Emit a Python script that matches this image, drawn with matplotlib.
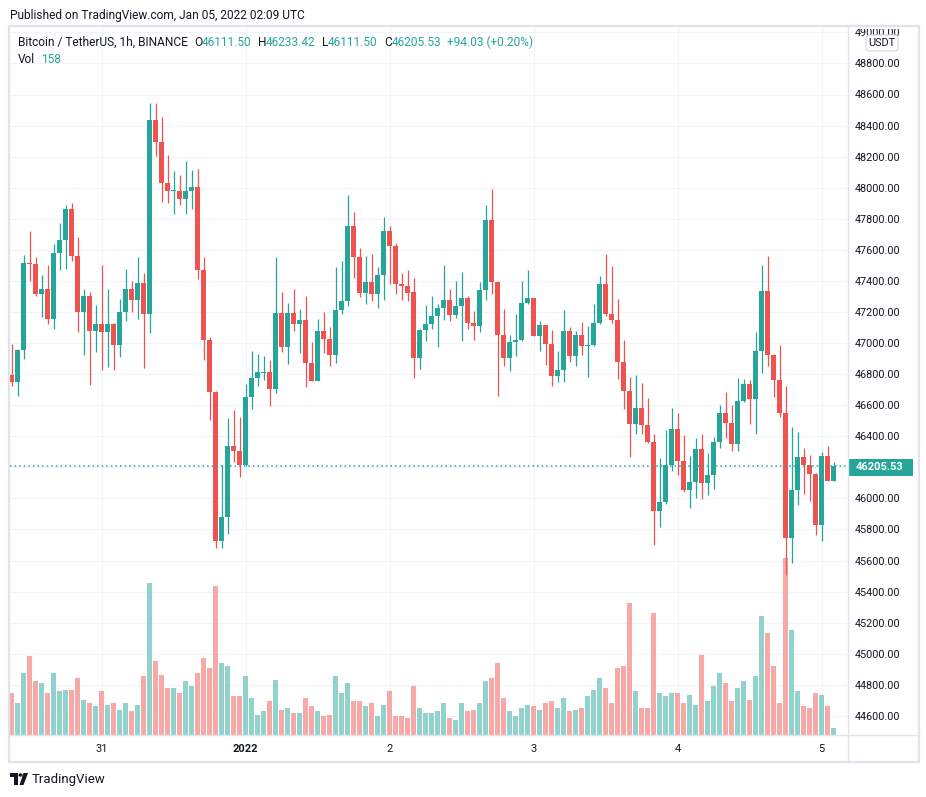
import matplotlib
matplotlib.use('Agg')
import matplotlib.pyplot as plt
from matplotlib.patches import Rectangle, FancyBboxPatch, Polygon, Circle
from matplotlib.lines import Line2D
from matplotlib.transforms import Bbox, TransformedBbox
import numpy as np

# BTCUSDT 1h candles, Dec 30 09:00 UTC -> Jan 05 02:00 UTC
opens = [46794, 46752, 46955, 47515, 47511, 47318, 47348, 47157, 47578, 47661,
         47863, 47558, 47202, 47303, 47080, 47123, 47073, 47123, 46988, 47200,
         47348, 47279, 47387, 47189, 48436, 48292, 48028, 47977, 47979, 47929,
         47977, 48005, 47468, 47018, 46687, 45728, 45880, 46337, 46302, 46215,
         46656, 46778, 46808, 46814, 46704, 47193, 46977, 47193, 47125, 47148,
         46870, 46756, 47077, 47023, 46920, 47216, 47268, 47754, 47557, 47322,
         47393, 47316, 47441, 47721, 47622, 47377, 47370, 47329, 46904, 47081,
         47120, 47171, 47223, 47277, 47181, 47236, 47293, 47132, 47110, 47339,
         47792, 47396, 47055, 46904, 47004, 47017, 47255, 47290, 47045, 47116,
         46997, 46788, 46824, 47078, 46917, 47052, 46978, 46986, 47126, 47380,
         47190, 47150, 46875, 46694, 46479, 46582, 46470, 46360, 45919, 45980,
         46218, 46447, 46244, 46054, 46103, 46318, 46099, 46150, 46366, 46550,
         46488, 46350, 46624, 46736, 46640, 46952, 47335, 46926, 46765, 46553,
         45745, 46051, 46266, 46218, 46160, 45829, 46273, 46111.50]
highs = [46994, 46962, 47567, 47721, 47554, 47438, 47503, 47638, 47773, 47889,
         47902, 47683, 47348, 47329, 47245, 47503, 47348, 47129, 47284, 47477,
         47397, 47554, 47451, 48545, 48545, 48455, 48211, 48108, 48082, 48172,
         48114, 48120, 47554, 47039, 46690, 46215, 46517, 46569, 46524, 46736,
         46949, 46930, 46917, 46891, 47554, 47329, 47258, 47348, 47219, 47303,
         47007, 47155, 47200, 47103, 47490, 47528, 47953, 47844, 47612, 47560,
         47573, 47490, 47811, 47753, 47644, 47451, 47470, 47419, 47090, 47245,
         47303, 47251, 47502, 47348, 47399, 47457, 47303, 47206, 47393, 47889,
         47992, 47400, 47219, 47052, 47187, 47400, 47470, 47290, 47142, 47116,
         47084, 46949, 47213, 47103, 47078, 47136, 47110, 47251, 47432, 47573,
         47496, 47284, 47020, 46781, 46794, 46743, 46646, 46415, 46260, 46440,
         46582, 46550, 46408, 46273, 46389, 46415, 46292, 46395, 46601, 46685,
         46601, 46775, 46769, 46762, 47071, 47502, 47560, 46930, 46988, 46724,
         46460, 46427, 46324, 46279, 46163, 46299, 46337, 46233.42]
lows = [46726, 46661, 46895, 47402, 47305, 47170, 47123, 47091, 47470, 47477,
        47528, 47071, 46923, 46730, 46945, 46827, 46848, 46827, 46912, 47144,
        47202, 47155, 46842, 47067, 48206, 47910, 47904, 47833, 47891, 47833,
        47865, 47414, 46893, 46505, 45681, 45681, 45771, 46234, 46140, 46209,
        46575, 46724, 46762, 46595, 46679, 46942, 46865, 47077, 46936, 46717,
        46756, 46756, 46936, 46852, 46872, 47187, 47239, 47419, 47296, 47251,
        47271, 47226, 47277, 47380, 47316, 47277, 47271, 46775, 46833, 47013,
        47090, 46975, 47148, 47142, 47161, 47013, 47090, 47020, 47071, 47277,
        47316, 46659, 46852, 46820, 46917, 47013, 47251, 47045, 46949, 46859,
        46724, 46749, 46749, 46878, 46852, 46923, 46781, 46981, 47123, 47174,
        47129, 46769, 46575, 46266, 46415, 46415, 46357, 45700, 45816, 45964,
        46176, 46151, 46041, 45938, 46003, 45996, 46022, 46060, 46324, 46389,
        46305, 46305, 46621, 46479, 46415, 46807, 46852, 46653, 46524, 45507,
        45586, 45957, 46028, 45983, 45764, 45726, 46111.50, 46111.50]
closes = [46752, 46955, 47515, 47511, 47318, 47348, 47157, 47578, 47661, 47863,
          47558, 47202, 47303, 47080, 47123, 47073, 47123, 46988, 47200, 47348,
          47279, 47387, 47189, 48436, 48292, 48028, 47977, 47979, 47929, 47977,
          48005, 47468, 47018, 46687, 45728, 45880, 46337, 46302, 46215, 46656,
          46778, 46814, 46814, 46704, 47193, 46977, 47193, 47125, 47148, 46870,
          46756, 47077, 47023, 46920, 47216, 47268, 47754, 47557, 47322, 47393,
          47316, 47441, 47721, 47622, 47377, 47370, 47325, 46904, 47081, 47120,
          47171, 47223, 47277, 47181, 47236, 47293, 47132, 47110, 47339, 47792,
          47396, 47055, 46904, 47004, 47017, 47255, 47290, 47045, 47116, 46997,
          46788, 46824, 47078, 46917, 47052, 46978, 46986, 47126, 47380, 47190,
          47150, 46875, 46694, 46479, 46582, 46470, 46360, 45919, 45980, 46218,
          46447, 46244, 46054, 46103, 46318, 46099, 46150, 46366, 46550, 46488,
          46350, 46624, 46736, 46640, 46952, 47335, 46926, 46765, 46553, 45745,
          46051, 46266, 46218, 46160, 45829, 46273, 46111.50, 46205.53]
volumes = [927, 723, 1401, 1763, 1198, 1175, 927, 1379, 994, 1017,
           1017, 1288, 791, 701, 633, 972, 678, 723, 565, 701,
           542, 678, 1333, 3413, 1672, 1356, 1062, 1040, 927, 1220,
           1107, 1401, 1718, 1492, 3367, 1605, 1537, 881, 881, 1333,
           836, 452, 520, 768, 1243, 565, 588, 475, 497, 814,
           655, 520, 407, 452, 1333, 927, 1175, 768, 746, 655,
           723, 429, 678, 972, 429, 407, 362, 1107, 610, 475,
           497, 520, 701, 362, 339, 723, 520, 565, 701, 1198,
           1266, 1627, 836, 520, 407, 610, 678, 655, 565, 701,
           768, 610, 814, 542, 565, 610, 881, 1017, 1288, 1040,
           723, 1514, 1537, 2983, 994, 588, 588, 2735, 949, 881,
           927, 949, 701, 904, 678, 1808, 768, 1107, 1379, 1175,
           768, 1040, 1198, 791, 1333, 2667, 2283, 1559, 701, 4000,
           2373, 994, 633, 610, 927, 904, 655, 158]

day_idx = [15, 39, 63, 87, 111, 135]
day_labels = ['31', '2022', '2', '3', '4', '5']
price_ticks = np.arange(44600, 49001, 200)
last_price = 46205.53

# legend line: (text, is_value)
legend_parts = [('Bitcoin / TetherUS, 1h, BINANCE', False),
                ('O', False), ('46111.50', True),
                ('H', False), ('46233.42', True),
                ('L', False), ('46111.50', True),
                ('C', False), ('46205.53', True),
                ('+94.03 (+0.20%)', True)]

UP, DOWN = '#26a69a', '#ef5350'
UP_VOL, DOWN_VOL = '#92d2cc', '#f7a9a7'
TXT = '#131722'
BORDER = '#e0e3eb'

W, H = 926, 797
def fx(px):
    return px / W
def fy(py):
    return 1 - py / H

plt.rcParams['font.family'] = ['Roboto', 'DejaVu Sans']

fig = plt.figure(figsize=(W / 100, H / 100), dpi=100)
fig.patch.set_facecolor('white')

L, R, T, B = 10, 847.5, 27, 734.5
ax = fig.add_axes([fx(L), fy(B), (R - L) / W, (B - T) / H])
ax.set_facecolor('white')

o = np.array(opens, dtype=float)
h = np.array(highs, dtype=float)
lo = np.array(lows, dtype=float)
c = np.array(closes, dtype=float)
v = np.array(volumes, dtype=float)
x = np.arange(len(o))
up = c >= o

# volume bars in the lower part of the pane (axes-fraction heights)
vol_full = 22.6 * (B - T)
ax.bar(x, v / vol_full, width=0.8, bottom=0,
       color=np.where(up, UP_VOL, DOWN_VOL),
       transform=ax.get_xaxis_transform(), zorder=1)

# candles
cols = np.where(up, UP, DOWN)
ax.vlines(x, lo, h, colors=cols, linewidth=0.9, zorder=2)
body_lo = np.minimum(o, c)
body_h = np.maximum(np.abs(c - o), 7)
ax.bar(x, body_h, width=0.8, bottom=body_lo, color=cols, zorder=3)

ax.axhline(last_price, color=UP, linewidth=1.1, linestyle=(0, (1, 2)), zorder=4)

ax.set_xlim((L - 11.7) / 6, (R - 11.7) / 6)
ax.set_ylim(48600 - (B - 94.5) * 6.437, 48600 + (94.5 - T) * 6.437)

# the 46200 label sits under the last-price tag
ax.set_yticks(price_ticks)
ax.set_yticklabels(['' if p == 46200 else f'{p:.2f}' for p in price_ticks])
ax.set_xticks(day_idx)
ax.set_xticklabels(day_labels)
ax.yaxis.tick_right()
ax.tick_params(axis='y', length=0, pad=5, labelsize=7.8, labelcolor=TXT)
ax.tick_params(axis='x', length=0, pad=7, labelsize=8, labelcolor=TXT)
for lab in ax.get_xticklabels():
    if lab.get_text() == '2022':
        lab.set_fontweight('bold')
clip = TransformedBbox(Bbox([[fx(848), fy(762)], [fx(919), fy(29)]]), fig.transFigure)
for lab in ax.get_yticklabels():
    lab.set_clip_on(True)
    lab.set_clip_box(clip)
ax.grid(True, color='#f0f3fa', linewidth=0.8)
ax.set_axisbelow(True)
for s in ax.spines.values():
    s.set_visible(False)

# frame: outer box, price-scale and time-scale separators
fig.add_artist(Rectangle((fx(9), fy(762)), (919 - 9) / W, (762 - 26) / H,
                         fill=False, edgecolor=BORDER, linewidth=1.6))
fig.add_artist(Line2D([fx(R), fx(R)], [fy(26), fy(762)], color=BORDER, linewidth=1))
fig.add_artist(Line2D([fx(9), fx(919)], [fy(B), fy(B)], color=BORDER, linewidth=1))

# last price tag
fig.add_artist(Rectangle((fx(R), fy(476)), (913 - R) / W, 17 / H,
                         facecolor=UP, edgecolor='none'))
fig.text(fx(880), fy(467.5), f'{last_price:.2f}', color='white', fontsize=8,
         fontweight='bold', ha='center', va='center')

# currency box at top of price scale
fig.add_artist(FancyBboxPatch((fx(866), fy(51)), 32 / W, 16 / H,
                              boxstyle='round,pad=0,rounding_size=0.004',
                              facecolor='white', edgecolor='#d1d4dc', linewidth=0.8))
fig.text(fx(882), fy(43), 'USDT', color=TXT, fontsize=7.8, ha='center', va='center')

# header texts
fs = 8.6
fig.text(fx(10), fy(15), 'Published on TradingView.com, Jan 05, 2022 02:09 UTC',
         color=TXT, fontsize=8.6, va='center')

renderer = fig.canvas.get_renderer()
px = 18
prev_value = True
for i, (s, is_val) in enumerate(legend_parts):
    if i > 0 and prev_value or i == 1:
        px += 6
    t = fig.text(fx(px), fy(42.7), s, color=UP if is_val else TXT,
                 fontsize=fs, va='center')
    px = t.get_window_extent(renderer).x1
    prev_value = is_val

fig.text(fx(18), fy(59.3), 'Vol', color=TXT, fontsize=fs, va='center')
fig.text(fx(41), fy(59.3), '158', color=UP, fontsize=fs, va='center')

# TradingView mark at bottom
fig.add_artist(Polygon([(fx(10), fy(773)), (fx(18), fy(773)), (fx(18), fy(785)),
                        (fx(14), fy(785)), (fx(14), fy(777)), (fx(10), fy(777))],
                       closed=True, facecolor=TXT, edgecolor='none'))
fig.add_artist(Circle((fx(20.5), fy(775)), 2 / W, facecolor=TXT, edgecolor='none'))
fig.add_artist(Polygon([(fx(23.5), fy(773)), (fx(28), fy(773)), (fx(23.5), fy(785)),
                        (fx(19.5), fy(785))],
                       closed=True, facecolor=TXT, edgecolor='none'))
fig.text(fx(32), fy(779), 'TradingView', color=TXT, fontsize=9.5, va='center')

fig.savefig('out.png', dpi=100, facecolor='white')
